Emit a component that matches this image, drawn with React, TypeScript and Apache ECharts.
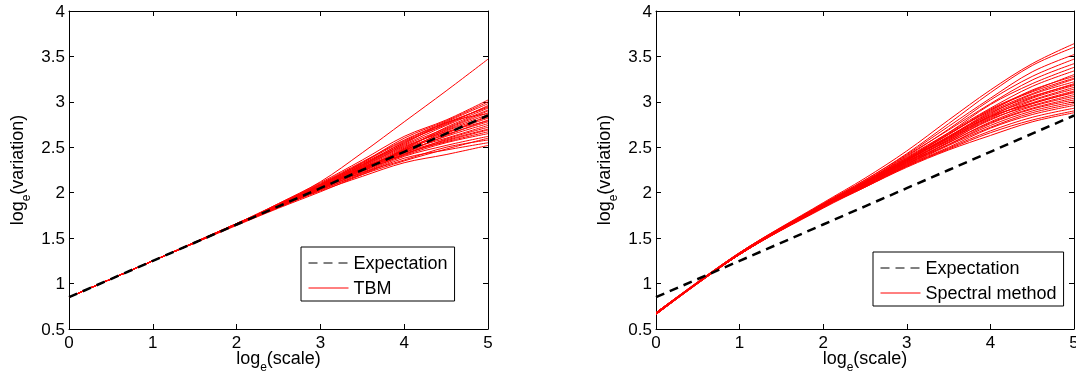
import React, { useEffect, useRef } from 'react';
import * as echarts from 'echarts';

const FONT = '"Liberation Sans", Arial, Helvetica, sans-serif';

// x positions (log_e(scale)) at which the curves were read
const xs = [0, 1, 2, 2.5, 3, 3.5, 4, 4.5, 5];

// expectation line (same in both panels)
const expectation = [0.85, 1.25, 1.65, 1.85, 2.05, 2.25, 2.45, 2.65, 2.85];

// TBM realisations (left panel)
const tbmRuns = [
  [0.85, 1.25, 1.65, 1.84, 2.02, 2.18, 2.33, 2.42, 2.52],
  [0.85, 1.25, 1.64, 1.83, 2.01, 2.2, 2.38, 2.47, 2.55],
  [0.85, 1.25, 1.65, 1.85, 2.04, 2.22, 2.36, 2.5, 2.58],
  [0.85, 1.25, 1.65, 1.84, 2.03, 2.21, 2.4, 2.52, 2.62],
  [0.85, 1.25, 1.65, 1.85, 2.05, 2.24, 2.41, 2.55, 2.65],
  [0.85, 1.25, 1.66, 1.86, 2.04, 2.23, 2.43, 2.56, 2.67],
  [0.85, 1.25, 1.65, 1.85, 2.06, 2.25, 2.44, 2.58, 2.7],
  [0.85, 1.25, 1.65, 1.85, 2.05, 2.26, 2.42, 2.59, 2.72],
  [0.85, 1.25, 1.65, 1.86, 2.06, 2.24, 2.46, 2.6, 2.74],
  [0.85, 1.25, 1.65, 1.85, 2.05, 2.27, 2.45, 2.62, 2.76],
  [0.85, 1.25, 1.66, 1.85, 2.07, 2.26, 2.47, 2.64, 2.78],
  [0.85, 1.25, 1.65, 1.86, 2.05, 2.28, 2.44, 2.63, 2.8],
  [0.85, 1.25, 1.65, 1.85, 2.06, 2.25, 2.48, 2.66, 2.82],
  [0.85, 1.25, 1.65, 1.84, 2.04, 2.27, 2.46, 2.68, 2.83],
  [0.85, 1.25, 1.65, 1.85, 2.06, 2.26, 2.47, 2.65, 2.85],
  [0.85, 1.25, 1.65, 1.86, 2.07, 2.29, 2.5, 2.69, 2.86],
  [0.85, 1.25, 1.66, 1.86, 2.06, 2.28, 2.49, 2.7, 2.88],
  [0.85, 1.25, 1.65, 1.85, 2.08, 2.3, 2.52, 2.71, 2.9],
  [0.85, 1.25, 1.65, 1.86, 2.07, 2.27, 2.48, 2.72, 2.91],
  [0.85, 1.25, 1.65, 1.86, 2.08, 2.31, 2.53, 2.74, 2.93],
  [0.85, 1.25, 1.65, 1.87, 2.09, 2.32, 2.55, 2.76, 2.95],
  [0.85, 1.25, 1.66, 1.86, 2.07, 2.3, 2.56, 2.75, 2.96],
  [0.85, 1.25, 1.65, 1.87, 2.1, 2.34, 2.58, 2.78, 2.98],
  [0.85, 1.25, 1.65, 1.87, 2.09, 2.33, 2.6, 2.79, 3.0],
  [0.85, 1.25, 1.66, 1.88, 2.11, 2.36, 2.62, 2.8, 3.02],
  [0.85, 1.25, 1.65, 1.85, 2.05, 2.22, 2.42, 2.57, 2.69],
  [0.85, 1.25, 1.65, 1.86, 2.07, 2.29, 2.51, 2.67, 2.79],
  [0.85, 1.25, 1.65, 1.86, 2.08, 2.31, 2.54, 2.77, 2.87],
  [0.85, 1.25, 1.65, 1.87, 2.09, 2.33, 2.57, 2.77, 2.94],
  [0.85, 1.25, 1.65, 1.84, 2.03, 2.2, 2.35, 2.48, 2.6],
  [0.85, 1.25, 1.66, 1.88, 2.12, 2.44, 2.78, 3.12, 3.47],
];

// Spectral-method realisations (right panel)
const spectralRuns = [
  [0.68, 1.34, 1.89, 2.16, 2.46, 2.8, 3.13, 3.42, 3.64],
  [0.67, 1.34, 1.88, 2.14, 2.43, 2.76, 3.1, 3.4, 3.6],
  [0.68, 1.33, 1.88, 2.14, 2.42, 2.73, 3.04, 3.33, 3.52],
  [0.67, 1.34, 1.87, 2.13, 2.4, 2.7, 3.02, 3.28, 3.47],
  [0.66, 1.33, 1.87, 2.12, 2.41, 2.69, 2.98, 3.24, 3.42],
  [0.67, 1.33, 1.87, 2.12, 2.38, 2.66, 2.97, 3.2, 3.38],
  [0.68, 1.34, 1.87, 2.12, 2.39, 2.66, 2.93, 3.17, 3.34],
  [0.67, 1.33, 1.86, 2.11, 2.37, 2.64, 2.92, 3.12, 3.3],
  [0.66, 1.33, 1.86, 2.11, 2.36, 2.65, 2.9, 3.13, 3.28],
  [0.67, 1.33, 1.87, 2.11, 2.37, 2.62, 2.89, 3.09, 3.25],
  [0.67, 1.33, 1.86, 2.1, 2.36, 2.61, 2.87, 3.08, 3.22],
  [0.68, 1.33, 1.86, 2.1, 2.35, 2.62, 2.86, 3.05, 3.2],
  [0.67, 1.33, 1.86, 2.1, 2.34, 2.59, 2.84, 3.04, 3.18],
  [0.66, 1.32, 1.85, 2.1, 2.35, 2.6, 2.85, 3.02, 3.16],
  [0.67, 1.33, 1.86, 2.09, 2.34, 2.58, 2.82, 3.01, 3.14],
  [0.67, 1.33, 1.85, 2.09, 2.33, 2.58, 2.83, 2.99, 3.12],
  [0.68, 1.33, 1.86, 2.09, 2.34, 2.57, 2.8, 2.98, 3.1],
  [0.67, 1.32, 1.85, 2.09, 2.32, 2.56, 2.81, 2.96, 3.08],
  [0.66, 1.33, 1.85, 2.08, 2.33, 2.55, 2.78, 2.95, 3.06],
  [0.67, 1.32, 1.85, 2.08, 2.31, 2.55, 2.77, 2.93, 3.04],
  [0.67, 1.33, 1.85, 2.08, 2.32, 2.53, 2.76, 2.92, 3.02],
  [0.68, 1.32, 1.84, 2.08, 2.31, 2.53, 2.74, 2.9, 3.0],
  [0.67, 1.32, 1.85, 2.07, 2.3, 2.52, 2.72, 2.88, 2.98],
  [0.66, 1.32, 1.84, 2.07, 2.3, 2.5, 2.71, 2.86, 2.96],
  [0.67, 1.32, 1.84, 2.07, 2.29, 2.49, 2.68, 2.83, 2.93],
  [0.67, 1.32, 1.84, 2.06, 2.29, 2.48, 2.66, 2.8, 2.9],
  [0.66, 1.32, 1.83, 2.06, 2.28, 2.47, 2.63, 2.78, 2.88],
  [0.67, 1.33, 1.87, 2.12, 2.38, 2.64, 2.91, 3.11, 3.26],
  [0.68, 1.33, 1.86, 2.1, 2.36, 2.6, 2.84, 2.98, 3.11],
  [0.67, 1.33, 1.86, 2.11, 2.36, 2.61, 2.88, 3.06, 3.19],
];

const pairs = (ys: number[]) => xs.map((x, i) => [x, ys[i]]);

const nameRich = {
  a: { fontSize: 18, lineHeight: 30, fontFamily: FONT, color: '#000' },
  s: { fontSize: 12, lineHeight: 10, verticalAlign: 'bottom', fontFamily: FONT, color: '#000' },
};

const tick = { show: true, inside: true, length: 5, lineStyle: { color: '#000', width: 1 } };
const line = { show: true, onZero: false, lineStyle: { color: '#000', width: 1 } };

function xMain(gridIndex: number) {
  return {
    type: 'value', gridIndex, min: 0, max: 5, interval: 1, position: 'bottom',
    axisLine: line, axisTick: tick, splitLine: { show: false },
    axisLabel: { show: true, margin: 5, fontSize: 17, color: '#000', fontFamily: FONT },
    name: '{a|log}{s|e}{a|(scale)}', nameLocation: 'middle', nameGap: 14, nameMoveOverlap: false,
    nameTextStyle: { fontSize: 18, fontFamily: FONT, color: '#000', rich: nameRich },
  };
}
function xTop(gridIndex: number) {
  return {
    type: 'value', gridIndex, min: 0, max: 5, interval: 1, position: 'top',
    axisLine: line, axisTick: tick, splitLine: { show: false }, axisLabel: { show: false },
  };
}
function yMain(gridIndex: number) {
  return {
    type: 'value', gridIndex, min: 0.5, max: 4, interval: 0.5, position: 'left',
    axisLine: line, axisTick: tick, splitLine: { show: false },
    axisLabel: { show: true, margin: 4, fontSize: 17, color: '#000', fontFamily: FONT },
    name: '{a|log}{s|e}{a|(variation)}', nameLocation: 'middle', nameGap: 37, nameRotate: 90,
    nameMoveOverlap: false,
    nameTextStyle: { fontSize: 18, fontFamily: FONT, color: '#000', rich: nameRich },
  };
}
function yRight(gridIndex: number) {
  return {
    type: 'value', gridIndex, min: 0.5, max: 4, interval: 0.5, position: 'right',
    axisLine: line, axisTick: tick, splitLine: { show: false }, axisLabel: { show: false },
  };
}

function runSeries(runs: number[][], name: string, axisIndex: number) {
  return runs.map((r) => ({
    type: 'line', name, xAxisIndex: axisIndex, yAxisIndex: axisIndex,
    data: pairs(r), smooth: 0.35, symbol: 'none', silent: true,
    lineStyle: { color: '#ff0000', width: 1 }, itemStyle: { color: '#ff0000' }, z: 2,
  }));
}
function expSeries(axisIndex: number) {
  return {
    type: 'line', name: 'Expectation', xAxisIndex: axisIndex, yAxisIndex: axisIndex,
    data: pairs(expectation), symbol: 'none', silent: true,
    lineStyle: { color: '#000', width: 2.5, type: [9, 6] }, itemStyle: { color: '#000' }, z: 3,
  };
}

function legendAt(left: number, top: number, names: string[]) {
  return {
    show: true, orient: 'vertical', left, top, data: names, selectedMode: false,
    backgroundColor: '#fff', borderColor: '#000', borderWidth: 1, borderRadius: 0,
    padding: [7, 7, 4, 7], itemGap: 7, itemWidth: 40, itemHeight: 14,
    lineStyle: { width: 1 },
    itemStyle: { opacity: 0 },
    textStyle: { fontSize: 18, lineHeight: 18, fontFamily: FONT, color: '#000' },
  };
}

export default function App() {
  const ref = useRef<HTMLDivElement>(null);
  useEffect(() => {
    const chart = echarts.init(ref.current!, null, { renderer: 'svg' });
    const option: any = {
      animation: false,
      textStyle: { fontFamily: FONT },
      grid: [
        { left: 69, top: 11, width: 419, height: 318, outerBoundsMode: 'none', containLabel: false },
        { left: 656, top: 11, width: 418, height: 318, outerBoundsMode: 'none', containLabel: false },
      ],
      xAxis: [xMain(0), xTop(0), xMain(1), xTop(1)],
      yAxis: [yMain(0), yRight(0), yMain(1), yRight(1)],
      legend: [
        legendAt(301, 247, ['Expectation', 'TBM']),
        legendAt(873, 252, ['Expectation', 'Spectral method']),
      ],
      series: [
        ...runSeries(tbmRuns, 'TBM', 0),
        expSeries(0),
        ...runSeries(spectralRuns, 'Spectral method', 2),
        expSeries(2),
      ],
    };
    chart.setOption(option);
    return () => chart.dispose();
  }, []);
  return <div ref={ref} style={{ position: 'fixed', left: 0, top: 0, width: 1076, height: 373 }} />;
}
